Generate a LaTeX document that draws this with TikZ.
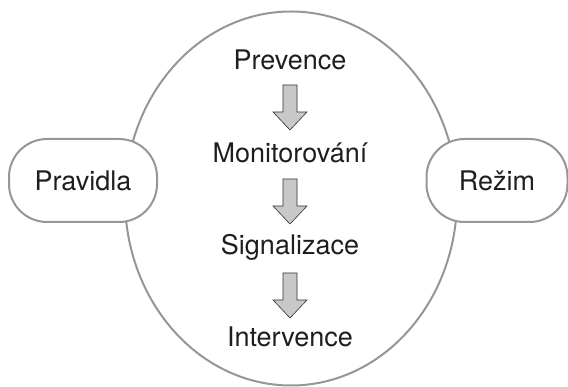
\documentclass[tikz,border=0pt]{standalone}
\usepackage{fontspec}
\setmainfont{TeX Gyre Heros}
\usetikzlibrary{shapes.geometric}
\begin{document}
\begin{tikzpicture}[x=1pt,y=1pt,
  outline/.style={draw=linegray, line width=2pt},
  sidebox/.style={outline, fill=white, rounded corners=38pt, minimum height=83pt, inner sep=0pt},
  label/.style={text=textdark, font=\fontsize{27}{31}\selectfont, anchor=base, inner sep=0pt},
  downarrow/.pic={\draw[draw=arrowedge, fill=arrowfill, line width=0.6pt, line join=miter]
      (-7,0)--(7,0)--(7,-27)--(17,-27)--(0,-45)--(-17,-27)--(-7,-27)--cycle;}]
\definecolor{linegray}{RGB}{150,150,150}
\definecolor{textdark}{RGB}{30,30,30}
\definecolor{arrowfill}{RGB}{200,200,200}
\definecolor{arrowedge}{RGB}{50,50,50}
\useasboundingbox (0,0) rectangle (568,387);
\node[outline, ellipse, minimum width=332pt, minimum height=374pt, inner sep=0pt] (oval) at (291,188.5) {};
\node[sidebox, minimum width=148pt, font=\fontsize{27}{31}\selectfont, text=textdark] (pravidla) at (83,206.5) {Pravidla};
\node[sidebox, minimum width=141pt, font=\fontsize{27}{31}\selectfont, text=textdark] (rezim) at (497,206.5) {Režim};
\node[label] (prevence) at (290,317) {Prevence};
\node[label] (monitor) at (290,224) {Monitorování};
\node[label] (signal) at (290,132) {Signalizace};
\node[label] (interv) at (290,40) {Intervence};
\pic at (290,302) {downarrow};
\pic at (290,208) {downarrow};
\pic at (290,114) {downarrow};
\end{tikzpicture}
\end{document}
